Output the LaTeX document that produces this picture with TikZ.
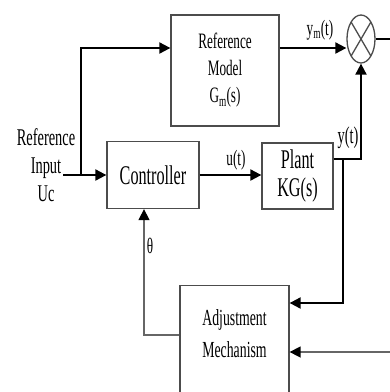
\documentclass[tikz,border=0pt]{standalone}
\usepackage{fontspec}
\setmainfont{Liberation Serif}
\usepackage{graphicx}
\usetikzlibrary{shapes.geometric, arrows.meta}
\newcommand{\nar}[1]{\scalebox{0.6}[1]{#1}}

\begin{document}
\begin{tikzpicture}[x=1pt, y=-1pt, blk/.style={draw=black!70, line width=1.3pt, rectangle, inner sep=0pt, align=center}, lbl/.style={inner sep=0pt, align=center}, sig/.style={-{Triangle[length=11pt, width=11pt]}, line width=2pt}, fb/.style={-{Triangle[length=11pt, width=11pt, color=black]}, line width=1.5pt, draw=black!60}]
            \useasboundingbox (0,0) rectangle (390,392);
            % nodes
            \node[blk, minimum width=108pt, minimum height=111pt, font=\fontsize{22}{27}\selectfont] (refm) at (225,70.5) {\nar{Reference}\\\nar{Model}\\\nar{G\textsubscript{m}(s)}};
            \node[blk, minimum width=92pt, minimum height=67pt, font=\fontsize{27}{30}\selectfont] (ctrl) at (153,175) {\nar{Controller}};
            \node[blk, minimum width=71pt, minimum height=66pt, font=\fontsize{27}{28}\selectfont] (plant) at (297.5,176) {\nar{Plant}\\\nar{KG(s)}};
            \node[draw=black!70, line width=1.3pt, ellipse, minimum width=28pt, minimum height=48pt, inner sep=0pt] (sum) at (361,39) {};
            \node[blk, minimum width=109pt, minimum height=120pt, anchor=north] (adj) at (234.5,285) {};
            \node[lbl, font=\fontsize{23}{32}\selectfont] (adjtxt) at (234.5,334) {\nar{Adjustment}\\\nar{Mechanism}};
            \node[lbl, font=\fontsize{24}{28}\selectfont] (inlbl) at (46,165) {\nar{Reference}\\\nar{Input}\\\nar{Uc}};
            \node[lbl, font=\fontsize{22}{24}\selectfont] (ym) at (320,30) {\nar{y\textsubscript{m}(t)}};
            \node[lbl, font=\fontsize{22}{24}\selectfont] (ut) at (236,160) {\nar{u(t)}};
            \node[lbl, font=\fontsize{24}{26}\selectfont] (yt) at (348,138) {\nar{y(t)}};
            \node[lbl, font=\fontsize{22}{24}\selectfont] (th) at (150,246) {\nar{θ}};
            \coordinate (src) at (63,175);
            \coordinate (br) at (81,175);
            \coordinate (top) at (81,48);
            \coordinate (yb) at (343,159);
            \coordinate (yin) at (0,303);
            \coordinate (out) at (400,39);
            \coordinate (err) at (400,352);
            \coordinate (tb) at (144,335);
            % cross in the sum
            \draw[black!70, line width=1.3pt] (sum.center) +(-9.9,-17) -- +(9.9,17) (sum.center) +(-9.9,17) -- +(9.9,-17);
            % edges
            \draw[sig] (src) -- (ctrl.west);
            \draw[sig] (br) -- (top) -- (refm.west |- top);
            \draw[sig] (refm.east |- top) -- (sum.west |- top);
            \draw[sig] (ctrl.east) -- (plant.west |- ctrl.east);
            \draw[sig] (plant.east |- yb) -| (sum.south);
            \draw[sig] (yb) |- (adj.east |- yin);
            \draw[line width=1.5pt] (sum.east) -- (out);
            \draw[fb] (err) -- (adj.east |- err);
            \draw[fb] (adj.west |- tb) -| (ctrl.south -| tb);
        \end{tikzpicture}
\end{document}
